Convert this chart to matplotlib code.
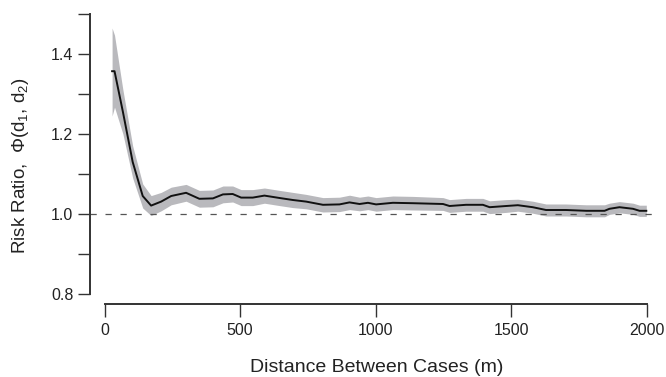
import matplotlib
matplotlib.use("Agg")
import matplotlib.pyplot as plt
import numpy as np

plt.rcParams['font.family'] = ['Liberation Sans', 'DejaVu Sans']
plt.rcParams['mathtext.fontset'] = 'custom'
plt.rcParams['mathtext.rm'] = 'Liberation Sans'
plt.rcParams['mathtext.it'] = 'Liberation Sans'

distance = [28, 37, 68, 104, 141, 172, 209, 246, 301, 350, 400, 437, 473, 504,
            547, 590, 646, 695, 744, 806, 867, 904, 941, 972, 1002, 1064, 1138,
            1249, 1273, 1334, 1396, 1421, 1482, 1525, 1580, 1629, 1703, 1777,
            1845, 1863, 1900, 1950, 1974, 1999]
ratio = [1.357, 1.357, 1.255, 1.13, 1.045, 1.021, 1.031, 1.045, 1.053, 1.038,
         1.039, 1.049, 1.050, 1.041, 1.041, 1.046, 1.040, 1.035, 1.031, 1.023,
         1.024, 1.029, 1.025, 1.028, 1.024, 1.028, 1.027, 1.025, 1.020, 1.023,
         1.023, 1.017, 1.020, 1.022, 1.017, 1.010, 1.010, 1.008, 1.008, 1.013,
         1.017, 1.013, 1.008, 1.008]
half_width = [0.11, 0.09, 0.055, 0.04, 0.03, 0.025, 0.023, 0.022, 0.021, 0.021,
              0.021, 0.021, 0.020, 0.020, 0.020, 0.019, 0.019, 0.019, 0.018, 0.018,
              0.018, 0.018, 0.017, 0.017, 0.017, 0.017, 0.017, 0.016, 0.016, 0.016,
              0.016, 0.016, 0.016, 0.015, 0.015, 0.015, 0.015, 0.015, 0.015, 0.014,
              0.014, 0.014, 0.014, 0.014]
ci_low = [r - h for r, h in zip(ratio, half_width)]
ci_high = [r + h for r, h in zip(ratio, half_width)]
ci_low[0] = 1.245
ci_high[0] = 1.465

xticks = [0, 500, 1000, 1500, 2000]
yticks = [0.8, 1.0, 1.2, 1.4]
yminor = [0.9, 1.1, 1.3, 1.5]

fig = plt.figure(figsize=(6.66, 3.77), dpi=100)
ax = fig.add_axes([90/666, (377-304)/377, (652-90)/666, (304-14)/377])

ax.fill_between(distance, ci_low, ci_high, color='#b9b9bd', lw=0)
ax.plot(distance, ratio, color='#111111', lw=1.4)
ax.axhline(1.0, color='#555555', lw=0.9, linestyle=(0, (5, 7)))

ax.set_xlim(-53.5, 2020)
ax.set_ylim(0.775, 1.5)

for s in ['top', 'right']:
    ax.spines[s].set_visible(False)
for s in ['left', 'bottom']:
    ax.spines[s].set_linewidth(1.4)
    ax.spines[s].set_color('#333333')
ax.spines['left'].set_bounds(0.8, 1.5)
ax.spines['bottom'].set_bounds(0, 2000)

ax.set_xticks(xticks)
ax.set_xticklabels([str(t) for t in xticks])
ax.set_yticks(yticks)
ax.set_yticklabels(['%.1f' % t for t in yticks])
ax.set_yticks(yminor, minor=True)
ax.tick_params(axis='both', which='both', length=9, width=1.0, color='#333333',
               labelsize=11.5, labelcolor='#222222', pad=3)
ax.tick_params(axis='x', which='both', pad=5)

ax.set_xlabel('Distance Between Cases (m)', fontsize=14, color='#222222')
ax.set_ylabel('Risk Ratio,  $\\Phi$(d$_1$, d$_2$)', fontsize=13.5, color='#222222')
ax.xaxis.set_label_coords((377-90)/(652-90), -(359-304)/(304-14))
ax.yaxis.set_label_coords(-(90-31)/(652-90), (304-166)/(304-14))

fig.savefig('out.png', dpi=100)
